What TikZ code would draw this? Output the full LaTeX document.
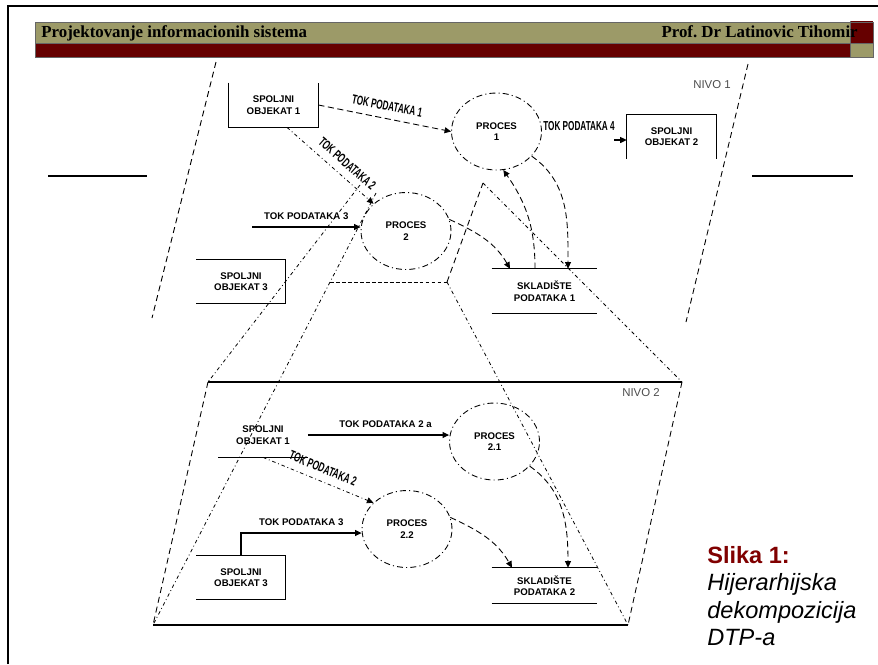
\documentclass[tikz,border=0pt]{standalone}
\usepackage{fontspec}
\setmainfont{Liberation Sans}
\newfontfamily\hdrfont{Liberation Serif}
\usetikzlibrary{positioning, arrows.meta, calc, shapes.geometric}
\definecolor{olivehdr}{RGB}{156,154,104}
\definecolor{darkred}{RGB}{102,0,0}
\definecolor{slikared}{RGB}{128,0,0}
\newcommand{\tok}[1]{\scalebox{0.63}[1]{\fontsize{7.4}{8}\selectfont\bfseries #1}}

\begin{document}
\begin{tikzpicture}[x=0.02cm,y=-0.02cm,>={Triangle[length=1.3mm,width=1.2mm]},
  font=\fontsize{5.5}{6.6}\selectfont\bfseries,
  obj/.style={minimum width=1.78cm,minimum height=0.88cm,inner sep=0pt,align=center},
  proc/.style={draw,ellipse,line width=0.5pt,dash pattern=on 3.4pt off 1.8pt on 0.6pt off 1.8pt,
    minimum width=1.8cm,minimum height=1.54cm,inner sep=0pt,align=center},
  store/.style={minimum width=2.1cm,inner sep=0pt,align=center},
  flow/.style={->,line width=0.6pt},
  dflow/.style={->,line width=0.5pt,dash pattern=on 3.5pt off 2pt},
  proj/.style={line width=0.45pt,dash pattern=on 2pt off 1.6pt on 0.5pt off 1.6pt},
  edge/.style={line width=0.5pt,dash pattern=on 3.4pt off 2.3pt},
  lvl/.style={font=\fontsize{6.5}{7}\selectfont,text=black!70}]
  \useasboundingbox (0,0) rectangle (878,664);
  % slide frame and header
  \draw[line width=1.1pt] (8,664) -- (8,6) -- (878,6);
  \fill[olivehdr] (35,22) rectangle (850,43);
  \fill[darkred] (35,43) rectangle (850,57);
  \fill[darkred] (850,21) rectangle (873,43);
  \fill[olivehdr] (850,43) rectangle (873,57);
  \draw[black!60,line width=0.4pt] (35,22) rectangle (873,57) (35,43) -- (873,43) (850,21) -- (850,57);
  \node[anchor=base west,inner sep=0pt,font=\hdrfont\fontsize{9.6}{11}\selectfont\bfseries] (title) at (41,37) {Projektovanje informacionih sistema};
  \node[anchor=base east,inner sep=0pt,font=\hdrfont\fontsize{9.6}{11}\selectfont\bfseries] (author) at (858,37) {Prof.\ Dr Latinovic Tihomir};
  \draw[line width=0.9pt] (48,176) -- (147,176) (752,176) -- (853,176);

  % nivo 1
  \draw[edge] (216,62) -- (152,318);
  \draw[edge] (748,64) -- (686,322);
  \node[lvl] (nivo1) at (712,85) {NIVO 1};
  \node[obj] (so1) at (273.5,105) {SPOLJNI\\OBJEKAT 1};
  \node[obj] (so2) at (671.5,136.5) {SPOLJNI\\OBJEKAT 2};
  \node[obj] (so3) at (241,281.5) {SPOLJNI\\OBJEKAT 3};
  \node[proc] (p1) at (496.5,131.5) {PROCES\\1};
  \node[proc] (p2) at (406,231) {PROCES\\2};
  \node[store,minimum height=0.88cm] (st1) at (544.5,291) {SKLADIŠTE\\PODATAKA 1};
  \draw[line width=0.6pt] (so1.north west) -- (so1.south west) -- (so1.south east) -- (so1.north east);
  \draw[line width=0.6pt] (so2.south west) -- (so2.north west) -- (so2.north east) -- (so2.south east);
  \draw[line width=0.6pt] (so3.north west) -- (so3.north east) -- (so3.south east) -- (so3.south west);
  \draw[line width=0.6pt] (st1.north west) -- (st1.north east) (st1.south west) -- (st1.south east);
  \coordinate (in3) at (252,227);
  \coordinate (in4) at (614,140);
  \draw[dflow] (so1.east) -- node[sloped,above=1pt]{\tok{TOK PODATAKA 1}} (p1.west);
  \draw[->,proj] ([xshift=0.27cm]so1.south) -- node[pos=0.6,sloped,above=1pt]{\tok{TOK PODATAKA 2}} (p2.140);
  \draw[flow] (in3) -- node[above=0.5pt]{TOK PODATAKA 3} (in3 -| p2.west);
  \draw[flow] (in4) -- (in4 -| so2.west);
  \node (lbl4) at (579,126) {\tok{TOK PODATAKA 4}};
  \draw[dflow] (p2.15) to[out=-25,in=120] ([xshift=-0.69cm]st1.north);
  \draw[dflow] ([xshift=-0.19cm]st1.north) to[out=90,in=-55] (p1.-80);
  \draw[dflow] (p1.-35) to[out=-35,in=90] ([xshift=0.47cm]st1.north);

  % decomposition of proces 2
  \coordinate (n2tl) at (208,382);
  \coordinate (n2tr) at (682,382);
  \coordinate (n2bl) at (153,625);
  \coordinate (n2br) at (628,625);
  \coordinate (q1) at (360,185);
  \coordinate (q1b) at (376,193);
  \coordinate (q2) at (483,183);
  \coordinate (q3) at (447,282);
  \coordinate (q4) at (330,282);
  \draw[proj] (q1) -- (n2tl);
  \draw[proj] (q1b) -- (n2bl);
  \draw[edge,dash pattern=on 2.2pt off 1.2pt] (q4) -- (q3);
  \draw[edge] (q3) -- (q2);
  \draw[proj] (q2) -- (n2tr);
  \draw[proj] (q3) -- (n2br);

  % nivo 2
  \draw[line width=0.7pt] (n2tl) -- (n2tr) (n2bl) -- (n2br);
  \draw[edge] (n2tl) -- (n2bl);
  \draw[edge] (n2tr) -- (n2br);
  \node[lvl] (nivo2) at (641,393) {NIVO 2};
  \node[obj] (so1b) at (263,435) {SPOLJNI\\OBJEKAT 1};
  \node[obj] (so3b) at (241,577.5) {SPOLJNI\\OBJEKAT 3};
  \node[proc] (p21) at (494.5,441.5) {PROCES\\2.1};
  \node[proc] (p22) at (407,529) {PROCES\\2.2};
  \node[store,minimum height=0.7cm] (st2) at (544.5,585.5) {SKLADIŠTE\\PODATAKA 2};
  \draw[line width=0.6pt] (so1b.south west) -- (so1b.south east);
  \draw[line width=0.6pt] (so3b.north west) -- (so3b.north east) -- (so3b.south east) -- (so3b.south west);
  \draw[line width=0.6pt] (st2.north west) -- (st2.north east) (st2.south west) -- (st2.south east);
  \draw[flow] (so1b.east) -- node[pos=0.55,above=0.5pt]{TOK PODATAKA 2 a} (so1b.east -| p21.west);
  \draw[->,proj] (so1b.south) -- node[sloped,above=1pt]{\tok{TOK PODATAKA 2}} (p22.142);
  \draw[flow] (so3b.north) |- node[pos=0.75,above=0.5pt]{TOK PODATAKA 3} ([yshift=-0.08cm]p22.west);
  \draw[dflow] (p22.15) to[out=-25,in=120] ([xshift=-0.65cm]st2.north);
  \draw[dflow] (p21.-35) to[out=-35,in=90] ([xshift=0.47cm]st2.north);

  % caption
  \node[anchor=north west,align=left,inner sep=0pt,font=\fontsize{13.4}{15.6}\selectfont] (cap) at (707,546)
    {{\color{slikared}\bfseries Slika 1:}\\{\itshape Hijerarhijska}\\{\itshape dekompozicija}\\{\itshape DTP-a}};
\end{tikzpicture}
\end{document}
